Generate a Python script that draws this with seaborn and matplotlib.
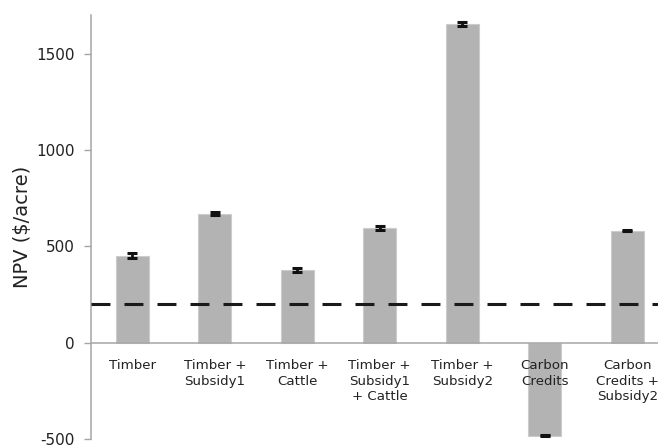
import numpy as np
import pandas as pd
import seaborn as sns
import matplotlib.pyplot as plt

# values
scenarios = ['Timber', 'Timber +\nSubsidy1', 'Timber +\nCattle', 'Timber +\nSubsidy1\n+ Cattle',
             'Timber +\nSubsidy2', 'Carbon\nCredits', 'Carbon\nCredits +\nSubsidy2']
npv = [452, 670, 377, 595, 1655, -482, 581]
npv_err = [13, 10, 10, 10, 10, 3, 3]
threshold = 200
yticks = [-500, 0, 500, 1000, 1500]

sns.set_style('white')
plt.rcParams['font.family'] = ['DejaVu Sans']
plt.rcParams['axes.unicode_minus'] = False

df = pd.DataFrame({'scenario': scenarios, 'npv': npv})

fig = plt.figure(figsize=(6.58, 4.47), dpi=100)
ax = fig.add_axes([91 / 658, 8 / 447, 577.5 / 658, 424 / 447])

sns.barplot(data=df, x='scenario', y='npv', color='#b3b3b3', width=0.4,
            saturation=1, edgecolor='#cccccc', linewidth=0.8, ax=ax)
for p in ax.patches:
    p.set_zorder(1)
ax.errorbar(np.arange(len(npv)), npv, yerr=npv_err, fmt='none', ecolor='#111111',
            elinewidth=2, capsize=3.5, capthick=2.2, zorder=4)

ax.axhline(threshold, color='#1a1a1a', lw=2.2, ls=(0, (6.2, 4.6)), zorder=5)

ax.set_xlim(-0.5, len(npv) - 0.5)
ax.set_ylim(-500, 1700)
ax.set_yticks(yticks)

# x axis sits at zero, ticks mark category boundaries
ax.spines['bottom'].set_position(('data', 0))
ax.spines['top'].set_visible(False)
ax.spines['right'].set_visible(False)
for s in ['left', 'bottom']:
    ax.spines[s].set_color('#a6a6a6')
    ax.spines[s].set_linewidth(1.1)
ax.xaxis.set_zorder(6)

ax.set_xticks(np.arange(len(npv)))
ax.set_xticklabels(scenarios, fontsize=9.6, color='#222222', linespacing=1.25)
ax.set_xticks(np.arange(len(npv)) - 0.5, minor=True)
ax.tick_params(axis='x', which='major', length=0, pad=12)
ax.tick_params(axis='x', which='minor', length=5, width=1, color='#a6a6a6', direction='out')
ax.tick_params(axis='y', length=5, width=1, color='#a6a6a6', direction='out', left=True,
               labelsize=11, labelcolor='#222222', pad=7)

ax.set_xlabel('')
ax.set_ylabel('NPV ($/acre)', fontsize=14, color='#222222', labelpad=3)

fig.savefig('out.png', dpi=100)
